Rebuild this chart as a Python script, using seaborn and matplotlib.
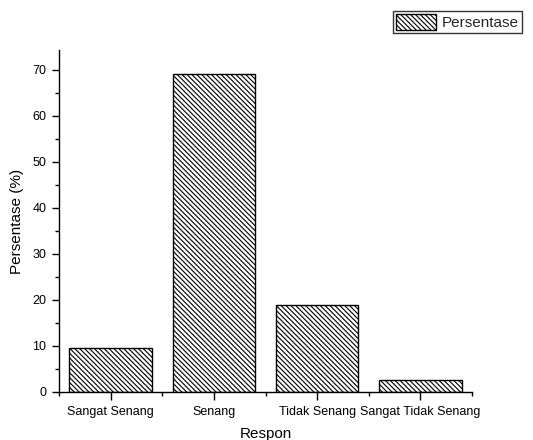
import matplotlib
matplotlib.use("Agg")
import matplotlib.pyplot as plt
import seaborn as sns
import pandas as pd
import numpy as np
from matplotlib.ticker import MultipleLocator, FixedLocator

categories = ["Sangat Senang", "Senang", "Tidak Senang", "Sangat Tidak Senang"]
values = [9.5, 69.0, 19.0, 2.5]
series_name = "Persentase"
x_label = "Respon"
y_label = "Persentase (%)"

DPI = 88
def k(v):
    # convert sizes designed for dpi 100 to the working dpi
    return v * 100.0 / DPI

sns.set_theme(style="ticks")
plt.rcParams["font.family"] = ["Liberation Sans", "DejaVu Sans"]
plt.rcParams["hatch.linewidth"] = k(0.8)
plt.rcParams["hatch.color"] = "black"

df = pd.DataFrame({"Respon": categories, "Persentase": values})

fig = plt.figure(figsize=(533 / DPI, 440 / DPI), dpi=DPI)
ax = fig.add_axes([59/533, 1-392/440, (472-59)/533, (392-50)/440])

sns.barplot(data=df, x="Respon", y="Persentase", ax=ax, color="white",
            edgecolor="black", linewidth=k(1.0), width=0.8, saturation=1,
            label=series_name)
for p in ax.patches:
    p.set_hatch("\\\\\\\\\\\\")
    p.set_facecolor("white")
    p.set_edgecolor("black")
if ax.get_legend() is not None:
    ax.get_legend().remove()

ax.set_xlim(-0.5, 3.5)
ax.set_ylim(0, 74.3)
ax.yaxis.set_major_locator(MultipleLocator(10))
ax.yaxis.set_minor_locator(MultipleLocator(5))
ax.xaxis.set_minor_locator(FixedLocator([-0.5, 0.5, 1.5, 2.5, 3.5]))
ax.set_yticks(np.arange(0, 71, 10))

for s in ["top", "right"]:
    ax.spines[s].set_visible(False)
for s in ["left", "bottom"]:
    ax.spines[s].set_linewidth(k(1.0))
    ax.spines[s].set_color("black")

ax.tick_params(axis="both", which="major", direction="out", length=k(5), width=k(1),
               colors="black", labelsize=k(9))
ax.tick_params(axis="both", which="minor", direction="out", length=k(3), width=k(1),
               colors="black")
ax.tick_params(axis="y", which="major", pad=k(4))
ax.tick_params(axis="x", which="major", pad=k(4), length=k(6))

ax.set_xlabel(x_label, fontsize=k(11), color="black", labelpad=k(6.5))
ax.set_ylabel(y_label, fontsize=k(11), color="black", labelpad=k(6))

handles, labels = ax.get_legend_handles_labels()
leg = fig.legend(handles, labels, loc="upper right",
                 bbox_to_anchor=(522/533, 1-11/440), frameon=True,
                 fancybox=False, edgecolor="black", fontsize=k(11),
                 handlelength=2.6, handleheight=1.2, handletextpad=0.4,
                 borderpad=0.2, borderaxespad=0)
leg.get_frame().set_linewidth(k(1.0))

fig.savefig("out.png", dpi=DPI)
